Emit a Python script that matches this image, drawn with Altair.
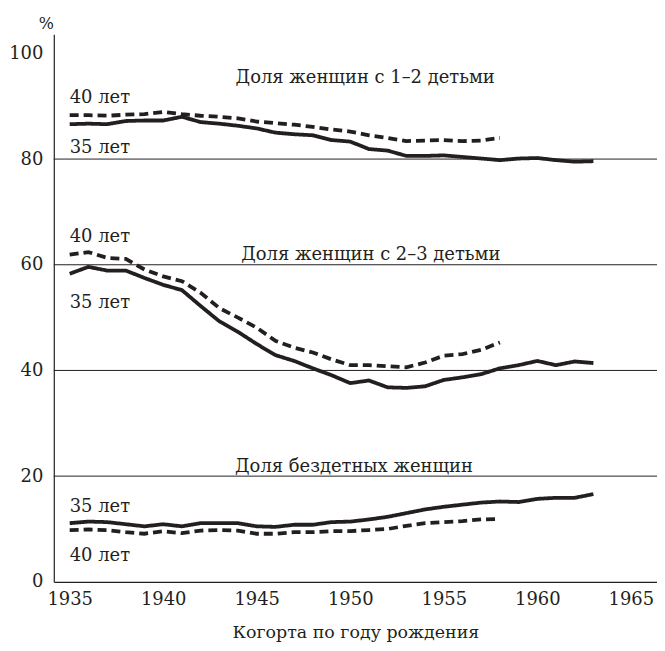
import altair as alt
import pandas as pd

years35 = list(range(1935, 1964))
years40 = list(range(1935, 1959))

# Share of women with 1-2 children
one_two_35 = [86.6, 86.7, 86.6, 87.2, 87.3, 87.3, 88.0, 87.0, 86.7, 86.3, 85.8, 85.0, 84.7, 84.5,
              83.6, 83.3, 81.9, 81.6, 80.6, 80.6, 80.7, 80.4, 80.1, 79.8, 80.1, 80.2, 79.8, 79.5, 79.6]
one_two_40 = [88.3, 88.3, 88.2, 88.4, 88.5, 88.9, 88.5, 88.2, 88.0, 87.7, 87.1, 86.8, 86.5, 86.1,
              85.6, 85.2, 84.5, 84.0, 83.4, 83.5, 83.6, 83.4, 83.5, 84.0]
# Share of women with 2-3 children
two_three_35 = [58.3, 59.6, 58.9, 58.9, 57.5, 56.2, 55.2, 52.2, 49.3, 47.3, 45.0, 42.9, 41.8, 40.4,
                39.1, 37.6, 38.1, 36.8, 36.7, 37.0, 38.2, 38.7, 39.3, 40.4, 41.0, 41.8, 41.0, 41.7, 41.4]
two_three_40 = [61.9, 62.4, 61.3, 61.1, 59.1, 57.8, 56.9, 54.7, 51.8, 50.0, 48.1, 45.6, 44.3, 43.4,
                42.1, 41.0, 41.0, 40.8, 40.6, 41.5, 42.8, 43.1, 43.9, 45.3]
# Share of childless women
childless_35 = [11.1, 11.4, 11.3, 10.9, 10.5, 10.9, 10.5, 11.1, 11.1, 11.1, 10.5, 10.4, 10.8, 10.8,
                11.3, 11.4, 11.8, 12.3, 13.0, 13.7, 14.2, 14.6, 15.0, 15.2, 15.1, 15.7, 15.9, 15.9, 16.6]
childless_40 = [9.8, 9.9, 9.8, 9.4, 9.1, 9.6, 9.2, 9.7, 9.8, 9.7, 9.1, 9.1, 9.4, 9.4,
                9.6, 9.6, 9.8, 10.0, 10.6, 11.1, 11.3, 11.5, 11.8, 11.9]

grid_values = [20, 40, 60, 80]
x_ticks = [1935, 1940, 1945, 1950, 1955, 1960, 1965]
y_ticks = [0, 20, 40, 60, 80, 100]

label_texts = ["Доля женщин с 1–2 детьми", "40 лет", "35 лет",
               "Доля женщин с 2–3 детьми", "40 лет", "35 лет",
               "Доля бездетных женщин", "35 лет", "40 лет"]
label_x = [1950.8, 1935, 1935, 1951.1, 1935, 1935, 1950.2, 1935, 1935]
label_y = [95.3, 91.5, 82.1, 61.9, 65.2, 52.7, 21.7, 14.1, 4.9]
label_align = ["center", "left", "left", "center", "left", "left", "center", "left", "left"]

rows = []
for grp, y35, y40 in [("g1", one_two_35, one_two_40), ("g2", two_three_35, two_three_40),
                      ("g3", childless_35, childless_40)]:
    for yr, v in zip(years35, y35):
        rows.append({"year": yr, "value": v, "age": "35 лет", "series": grp + "35"})
    for yr, v in zip(years40, y40):
        rows.append({"year": yr, "value": v, "age": "40 лет", "series": grp + "40"})
df = pd.DataFrame(rows)

labels = pd.DataFrame({"text": label_texts, "x": label_x, "y": label_y, "align": label_align})
grid = pd.DataFrame({"v": grid_values})

FONT = "DejaVu Serif"
INK = "#231f20"

xscale = alt.Scale(domain=[1934.15, 1966.4], nice=False, zero=False)
yscale = alt.Scale(domain=[0, 103.6], nice=False)

rules = alt.Chart(grid).mark_rule(color=INK, strokeWidth=1).encode(
    y=alt.Y("v:Q", scale=yscale)
)

lines = alt.Chart(df).mark_line(strokeWidth=3.8, color=INK, strokeCap="butt").encode(
    x=alt.X("year:Q", scale=xscale,
            axis=alt.Axis(values=x_ticks, format="d", ticks=False, grid=False,
                          labelFontSize=18, labelPadding=9, labelColor=INK,
                          domainColor=INK, domainWidth=1.2,
                          title="Когорта по году рождения", titleFontSize=17.5,
                          titleFontWeight="normal", titleColor=INK, titlePadding=15)),
    y=alt.Y("value:Q", scale=yscale,
            axis=alt.Axis(values=y_ticks, ticks=False, grid=False,
                          labelFontSize=18, labelPadding=11, labelColor=INK,
                          domainColor=INK, domainWidth=1.2,
                          title="%", titleAngle=0, titleX=-8, titleY=-11,
                          titleAlign="center", titleBaseline="middle",
                          titleFontSize=16, titleFontWeight="normal",
                          titleColor=INK)),
    strokeDash=alt.StrokeDash("age:N", scale=alt.Scale(domain=["35 лет", "40 лет"],
                                                        range=[[1, 0], [9, 5]]), legend=None),
    detail="series:N",
)

texts_left = alt.Chart(labels).transform_filter(alt.datum.align == "left").mark_text(
    fontSize=18, color=INK, align="left", baseline="middle"
).encode(x=alt.X("x:Q", scale=xscale), y=alt.Y("y:Q", scale=yscale), text="text:N")

texts_center = alt.Chart(labels).transform_filter(alt.datum.align == "center").mark_text(
    fontSize=18, color=INK, align="center", baseline="middle"
).encode(x=alt.X("x:Q", scale=xscale), y=alt.Y("y:Q", scale=yscale), text="text:N")

chart = alt.layer(rules, lines, texts_left, texts_center).properties(
    width=606, height=550,
    autosize=alt.AutoSizeParams(type="none"),
    padding={"left": 46, "top": 25, "right": 0, "bottom": 66},
    background="white",
).configure(font=FONT).configure_view(stroke=None)

chart.save("out.html", embed_options={"renderer": "svg", "actions": False})
